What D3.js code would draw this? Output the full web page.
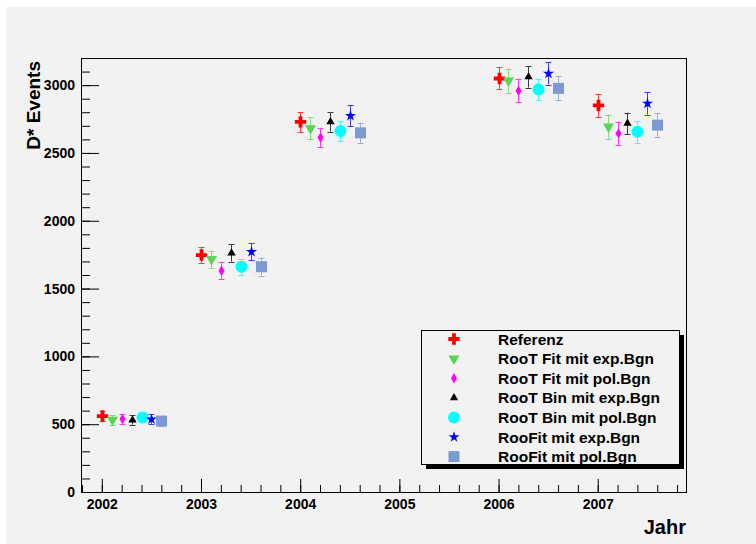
<!DOCTYPE html>
<html>
<head>
	<script src="https://d3js.org/d3.v7.min.js"></script>
	<title></title>
	<style type="text/css">
		body { margin: 0; background: #ffffff; }
		#chart { width: 756px; height: 544px; }
		text { font-family: "Liberation Sans", Arial, sans-serif; font-weight: bold; fill: #000; }
	</style>
</head>
<body>

	<div id="chart"></div>

	<script type="text/javascript">

		// data
		var years = [2002, 2003, 2004, 2006, 2007];
		var seriesNames = ["Referenz", "RooT Fit mit exp.Bgn", "RooT Fit mit pol.Bgn", "RooT Bin mit exp.Bgn",
		                   "RooT Bin mit pol.Bgn", "RooFit mit exp.Bgn", "RooFit mit pol.Bgn"];
		var xOffsets = [0, 0.1, 0.2, 0.3, 0.4, 0.5, 0.6];

		var referenz    = [560, 1747, 2729, 3049, 2850];
		var fitExp      = [531, 1717, 2681, 3032, 2693];
		var fitPol      = [538, 1631, 2614, 2958, 2644];
		var binExp      = [531, 1762, 2729, 3061, 2718];
		var binPol      = [550, 1661, 2661, 2968, 2656];
		var rooFitExp   = [536, 1771, 2774, 3086, 2865];
		var rooFitPol   = [523, 1661, 2648, 2976, 2705];

		var errReferenz  = [35, 60, 74, 81, 85];
		var errFitExp    = [35, 62, 81, 88, 89];
		var errFitPol    = [35, 62, 72, 86, 86];
		var errBinExp    = [35, 63, 72, 79, 79];
		var errBinPol    = [35, 59, 72, 80, 80];
		var errRooFitExp = [36, 64, 76, 82, 82];
		var errRooFitPol = [35, 66, 76, 88, 86];

		var yMajorTicks = [0, 500, 1000, 1500, 2000, 2500, 3000];
		var xMajorTicks = [2002, 2003, 2004, 2005, 2006, 2007];

		var allValues = [referenz, fitExp, fitPol, binExp, binPol, rooFitExp, rooFitPol];
		var allErrors = [errReferenz, errFitExp, errFitPol, errBinExp, errBinPol, errRooFitExp, errRooFitPol];

		var colors = ["#ff0000", "#59d454", "#ff00ff", "#000000", "#00ffff", "#0000ff", "#7d99d1"];
		var shapes = [
			{type: d3.symbolCross, size: 72, rot: 0},
			{type: d3.symbolTriangle, size: 52, rot: 180},
			{type: d3.symbolDiamond, size: 31, rot: 0},
			{type: d3.symbolTriangle, size: 30, rot: 0},
			{type: d3.symbolCircle, size: 113, rot: 0},
			{type: d3.symbolStar, size: 38, rot: 0},
			{type: d3.symbolSquare, size: 121, rot: 0}
		];

		var width = 756, height = 544;
		var pLeft = 81, pRight = 686, pTop = 58, pBottom = 492;

		var svg = d3.select("#chart")
		  .append("svg")
		  .attr("width", width)
		  .attr("height", height);

		svg.append("rect")
		  .attr("x", 6).attr("y", 7)
		  .attr("width", width - 6).attr("height", height - 7)
		  .style("fill", "#f2f2f2");

		var xscale = d3.scaleLinear().domain([2001.79, 2007.89]).range([pLeft, pRight]);
		var yscale = d3.scaleLinear().domain([0, 3200]).range([pBottom, pTop]);

		// minor ticks
		svg.append("g")
		  .attr("transform", "translate(0," + pBottom + ")")
		  .call(d3.axisBottom(xscale).tickValues(d3.range(2001.8, 2007.85, 0.2)).tickFormat("").tickSizeInner(-7).tickSizeOuter(0))
		  .call(function(g){ g.select(".domain").remove(); });
		svg.append("g")
		  .attr("transform", "translate(" + pLeft + ",0)")
		  .call(d3.axisLeft(yscale).tickValues(d3.range(0, 3201, 100)).tickFormat("").tickSizeInner(-9).tickSizeOuter(0))
		  .call(function(g){ g.select(".domain").remove(); });

		// major ticks
		var xaxis = svg.append("g")
		  .attr("transform", "translate(0," + pBottom + ")")
		  .call(d3.axisBottom(xscale).tickValues(xMajorTicks).tickFormat(d3.format("d")).tickSizeInner(-13).tickSizeOuter(0).tickPadding(7));
		xaxis.select(".domain").remove();
		xaxis.selectAll("text").style("font-size", "14px").style("font-family", null);

		var yaxis = svg.append("g")
		  .attr("transform", "translate(" + pLeft + ",0)")
		  .call(d3.axisLeft(yscale).tickValues(yMajorTicks).tickFormat(d3.format("d")).tickSizeInner(-18).tickSizeOuter(0).tickPadding(6));
		yaxis.select(".domain").remove();
		yaxis.selectAll("text").style("font-size", "14px").style("font-family", null);

		svg.selectAll(".tick line").style("stroke", "#000");

		// frame
		svg.append("rect")
		  .attr("x", pLeft + 0.5).attr("y", pTop + 0.5)
		  .attr("width", pRight - pLeft).attr("height", pBottom - pTop)
		  .style("fill", "none").style("stroke", "#000");

		// axis titles
		svg.append("text")
		  .attr("transform", "translate(40," + (pTop + 3) + ") rotate(-90)")
		  .attr("text-anchor", "end")
		  .style("font-size", "19px")
		  .text("D* Events");

		svg.append("text")
		  .attr("x", pRight).attr("y", 534)
		  .attr("text-anchor", "end")
		  .style("font-size", "20px")
		  .text("Jahr");

		function markerPath(i) {
			return d3.symbol().type(shapes[i].type).size(shapes[i].size)();
		}

		// points with error bars
		allValues.forEach(function(vals, i) {
			var g = svg.append("g");
			var pts = years.map(function(y, j){ return {x: y + xOffsets[i], v: vals[j], e: allErrors[i][j]}; });

			var bars = g.selectAll(".err").data(pts).enter().append("g")
			  .style("stroke", colors[i]).style("stroke-width", 1).style("opacity", 0.75);
			bars.append("line")
			  .attr("x1", function(d){ return Math.round(xscale(d.x)) + 0.5; })
			  .attr("x2", function(d){ return Math.round(xscale(d.x)) + 0.5; })
			  .attr("y1", function(d){ return yscale(d.v + d.e); })
			  .attr("y2", function(d){ return yscale(d.v - d.e); });
			bars.append("line")
			  .attr("x1", function(d){ return Math.round(xscale(d.x)) - 2.5; })
			  .attr("x2", function(d){ return Math.round(xscale(d.x)) + 3.5; })
			  .attr("y1", function(d){ return Math.round(yscale(d.v + d.e)) + 0.5; })
			  .attr("y2", function(d){ return Math.round(yscale(d.v + d.e)) + 0.5; });
			bars.append("line")
			  .attr("x1", function(d){ return Math.round(xscale(d.x)) - 2.5; })
			  .attr("x2", function(d){ return Math.round(xscale(d.x)) + 3.5; })
			  .attr("y1", function(d){ return Math.round(yscale(d.v - d.e)) + 0.5; })
			  .attr("y2", function(d){ return Math.round(yscale(d.v - d.e)) + 0.5; });

			g.selectAll(".mk").data(pts).enter().append("path")
			  .attr("d", markerPath(i))
			  .attr("transform", function(d){ return "translate(" + (Math.round(xscale(d.x)) + 0.5) + "," + yscale(d.v) + ") rotate(" + shapes[i].rot + ")"; })
			  .style("fill", colors[i]);
		});

		// legend
		var lx = 421, ly = 330, lw = 258, lh = 134;
		svg.append("rect")
		  .attr("x", lx + 5).attr("y", ly + 5).attr("width", lw).attr("height", lh)
		  .style("fill", "#000");
		svg.append("rect")
		  .attr("x", lx + 0.5).attr("y", ly + 0.5).attr("width", lw).attr("height", lh)
		  .style("fill", "#f2f2f2").style("stroke", "#000");

		var legend = svg.selectAll(".leg").data(seriesNames).enter().append("g")
		  .attr("transform", function(d, i){ return "translate(0," + (ly + 9 + i * 19.6) + ")"; });
		legend.append("path")
		  .attr("d", function(d, i){ return markerPath(i); })
		  .attr("transform", function(d, i){ return "translate(454,0) rotate(" + shapes[i].rot + ")"; })
		  .style("fill", function(d, i){ return colors[i]; });
		legend.append("text")
		  .attr("x", 498).attr("dy", "0.36em")
		  .style("font-size", "15.5px")
		  .text(function(d){ return d; });

	</script>

</body>
</html>
